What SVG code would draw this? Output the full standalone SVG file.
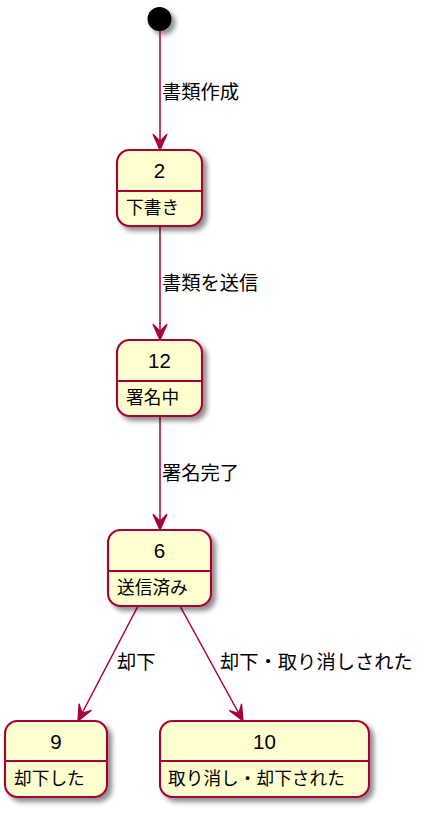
<svg xmlns="http://www.w3.org/2000/svg" width="436" height="825" viewBox="0 0 436 825">
<style>
.st rect{fill:#FEFECE;stroke:#A80036;stroke-width:2.1;}
.st line{stroke:#A80036;stroke-width:2.1;}
.t{font-family:"Liberation Sans","Noto Sans CJK JP",sans-serif;font-size:20.5px;fill:#000;text-anchor:middle;}
.d{font-family:"Noto Sans CJK JP","Liberation Sans",sans-serif;font-size:17.7px;fill:#000;}
.l{font-family:"Noto Sans CJK JP","Liberation Sans",sans-serif;font-size:19.3px;fill:#000;}
.c{stroke:#A80036;stroke-width:1.5;fill:none;}
</style>
<defs>
<filter id="sh" x="-20%" y="-20%" width="150%" height="150%">
<feGaussianBlur in="SourceAlpha" stdDeviation="2.5"/>
<feOffset dx="4" dy="4" result="b"/>
<feComponentTransfer><feFuncA type="linear" slope="0.45"/></feComponentTransfer>
<feMerge><feMergeNode/><feMergeNode in="SourceGraphic"/></feMerge>
</filter>
<marker id="ah" markerUnits="userSpaceOnUse" markerWidth="20" markerHeight="20" viewBox="-14 -8 16 16" refX="0" refY="0" orient="auto">
<path d="M0,0 L-12.6,-5.6 L-7,0 L-12.6,5.6 Z" fill="#A80036" stroke="#A80036" stroke-width="1"/>
</marker>
</defs>
<g id="start">
<circle cx="159.5" cy="19" r="12" fill="#000" filter="url(#sh)"/>
</g>
<g id="connectors">
<line class="c" x1="160" y1="31" x2="160" y2="150" marker-end="url(#ah)"/>
<text class="l" x="162" y="98.5">書類作成</text>
<line class="c" x1="160" y1="226" x2="160" y2="340" marker-end="url(#ah)"/>
<text class="l" x="162" y="289.5">書類を送信</text>
<line class="c" x1="160" y1="416" x2="160" y2="530" marker-end="url(#ah)"/>
<text class="l" x="162" y="479.5">署名完了</text>
<line class="c" x1="138" y1="606" x2="78" y2="721" marker-end="url(#ah)"/>
<text class="l" x="117" y="668.5">却下</text>
<line class="c" x1="180" y1="606" x2="243" y2="721" marker-end="url(#ah)"/>
<text class="l" x="220" y="668.5">却下・取り消しされた</text>
</g>
<g id="s2" class="st">
<rect x="117" y="150" width="85" height="76" rx="12.5" filter="url(#sh)"/>
<line x1="117" y1="191" x2="202" y2="191"/>
<text class="t" x="159.5" y="177.5">2</text>
<text class="d" x="126" y="213.5">下書き</text>
</g>
<g id="s12" class="st">
<rect x="117" y="340" width="85" height="76" rx="12.5" filter="url(#sh)"/>
<line x1="117" y1="381" x2="202" y2="381"/>
<text class="t" x="159.5" y="367.5">12</text>
<text class="d" x="126" y="403.5">署名中</text>
</g>
<g id="s6" class="st">
<rect x="108" y="530" width="103" height="76" rx="12.5" filter="url(#sh)"/>
<line x1="108" y1="571" x2="211" y2="571"/>
<text class="t" x="159.5" y="557.5">6</text>
<text class="d" x="117" y="593.5">送信済み</text>
</g>
<g id="s9" class="st">
<rect x="5" y="721" width="102" height="76" rx="12.5" filter="url(#sh)"/>
<line x1="5" y1="761" x2="107" y2="761"/>
<text class="t" x="56" y="748.5">9</text>
<text class="d" x="14" y="784.5">却下した</text>
</g>
<g id="s10" class="st">
<rect x="160" y="721" width="209" height="76" rx="12.5" filter="url(#sh)"/>
<line x1="160" y1="761" x2="369" y2="761"/>
<text class="t" x="264.5" y="748.5">10</text>
<text class="d" x="168" y="784.5">取り消し・却下された</text>
</g>
</svg>
